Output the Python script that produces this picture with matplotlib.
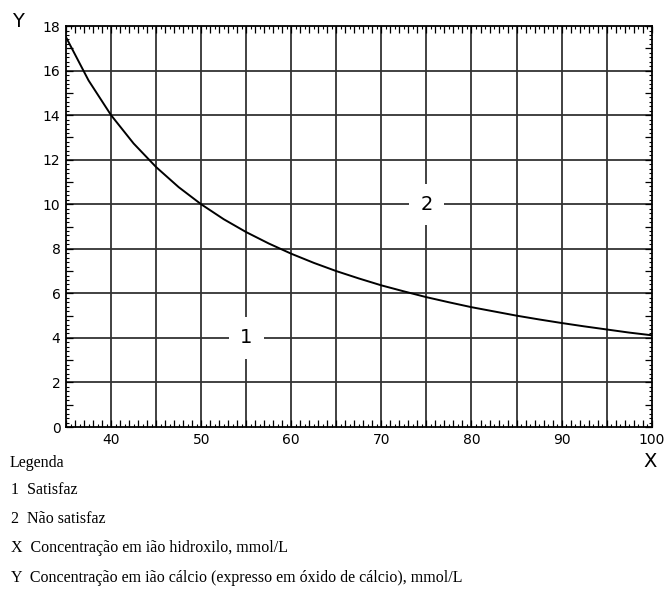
import matplotlib
matplotlib.use('Agg')
from matplotlib import pyplot as plt
from matplotlib.ticker import MultipleLocator, FuncFormatter

# curve (OH- conc. vs CaO conc.)
x_oh = [35, 37.5, 40, 42.5, 45, 47.5, 50, 52.5, 55, 57.5, 60, 62.5, 65, 67.5,
        70, 72.5, 75, 77.5, 80, 82.5, 85, 87.5, 90, 92.5, 95, 97.5, 100]
y_cao = [17.5, 15.56, 14.0, 12.73, 11.67, 10.77, 10.0, 9.33, 8.75, 8.24, 7.78, 7.37,
         7.0, 6.67, 6.36, 6.09, 5.83, 5.6, 5.38, 5.19, 5.0, 4.83, 4.67, 4.52,
         4.38, 4.24, 4.12]

region_labels = ['1', '2']
region_x = [55, 75]
region_y = [4, 10]

legend_lines = ['1  Satisfaz', '2  Não satisfaz',
                'X  Concentração em ião hidroxilo, mmol/L',
                'Y  Concentração em ião cálcio (expresso em óxido de cálcio), mmol/L']

tickfont = ['Liberation Sans Narrow', 'DejaVu Sans']
serif = ['Liberation Serif', 'DejaVu Serif']

fig = plt.figure(figsize=(6.65, 6.07), dpi=100)
ax = fig.add_axes([0.0993, 0.2965, 0.8807, 0.6605])

ax.plot(x_oh, y_cao, color='black', lw=1.4, zorder=3)

ax.set_xlim(35, 100)
ax.set_ylim(0, 18)
# long ticks every unit, short ones between; labels only every 10 / 2
ax.xaxis.set_major_locator(MultipleLocator(1))
ax.xaxis.set_minor_locator(MultipleLocator(0.5))
ax.yaxis.set_major_locator(MultipleLocator(1))
ax.yaxis.set_minor_locator(MultipleLocator(0.2))
ax.xaxis.set_major_formatter(FuncFormatter(lambda v, p: '%d' % v if round(v) % 10 == 0 else ''))
ax.yaxis.set_major_formatter(FuncFormatter(lambda v, p: '%d' % v if round(v) % 2 == 0 else ''))

# grid every 5 in x and 2 in y
for gx in range(40, 100, 5):
    ax.axvline(gx, color='#333333', lw=1.3, zorder=1)
for gy in range(2, 18, 2):
    ax.axhline(gy, color='#333333', lw=1.3, zorder=1)

ax.tick_params(which='both', direction='in', top=True, right=True)
ax.tick_params(which='major', length=5, width=0.9, pad=4)
ax.tick_params(which='minor', length=2.5, width=0.8)
for spine in ax.spines.values():
    spine.set_linewidth(1.3)

for lab in ax.get_xticklabels() + ax.get_yticklabels():
    lab.set_family(tickfont)
    lab.set_fontsize(10)

for t, px, py in zip(region_labels, region_x, region_y):
    ax.text(px, py, t, ha='center', va='center', fontsize=14, family=tickfont,
            zorder=4, bbox=dict(facecolor='white', edgecolor='none', pad=8))

fig.text(0.027, 0.965, 'Y', fontsize=14, family=tickfont, ha='center', va='center')
fig.text(0.977, 0.239, 'X', fontsize=14, family=tickfont, ha='center', va='center')

fig.text(0.014, 0.237, 'Legenda', fontsize=11.5, family=serif, va='center')
ypos = [0.192, 0.145, 0.097, 0.048]
for line, yy in zip(legend_lines, ypos):
    fig.text(0.017, yy, line, fontsize=11.5, family=serif, va='center')

plt.savefig('out.png', dpi=100)
